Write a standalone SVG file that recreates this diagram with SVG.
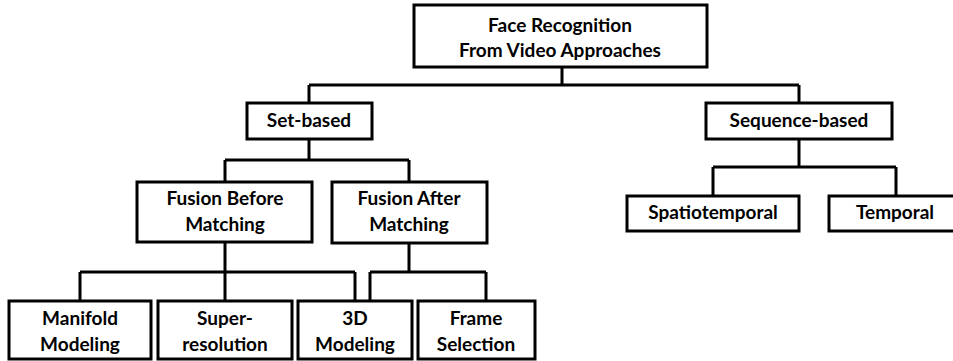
<svg xmlns="http://www.w3.org/2000/svg" width="953" height="361" viewBox="0 0 953 361">
<style>
.box{fill:#fff;stroke:#000;stroke-width:3}
.conn{fill:none;stroke:#000;stroke-width:3}
text{font-family:Lato,"Open Sans","Liberation Sans",sans-serif;font-weight:bold;font-size:19px;fill:#000;text-anchor:middle}
</style>
<rect width="953" height="361" fill="#fff"/>
<g id="connectors">
<path class="conn" d="M562,67V85M309,85H799M309,85V103M799,85V103"/>
<path class="conn" d="M309,139V160M225,160H409M225,160V182M409,160V182"/>
<path class="conn" d="M799,139V167M713,167H896M713,167V196M896,167V196"/>
<path class="conn" d="M225,242V301M80,272H355M80,272V301M355,272V301"/>
<path class="conn" d="M409,243V272M370,272H486M370,272V301M486,272V301"/>
</g>
<g id="root"><rect class="box" x="414" y="5" width="293" height="62"/><text x="560" y="32">Face Recognition</text><text x="560" y="57">From Video Approaches</text></g>
<g id="set-based"><rect class="box" x="247" y="103" width="125" height="36"/><text x="309" y="127">Set-based</text></g>
<g id="sequence-based"><rect class="box" x="706" y="103" width="186" height="36"/><text x="799" y="127">Sequence-based</text></g>
<g id="fusion-before"><rect class="box" x="137" y="182" width="175" height="60"/><text x="225" y="205">Fusion Before</text><text x="225" y="231">Matching</text></g>
<g id="fusion-after"><rect class="box" x="332" y="182" width="155" height="61"/><text x="409" y="205">Fusion After</text><text x="409" y="231">Matching</text></g>
<g id="spatiotemporal"><rect class="box" x="627" y="196" width="172" height="35"/><text x="713" y="219">Spatiotemporal</text></g>
<g id="temporal"><rect class="box" x="829" y="196" width="134" height="35"/><text x="895" y="219">Temporal</text></g>
<g id="manifold"><rect class="box" x="9" y="301" width="142" height="58"/><text x="80" y="325">Manifold</text><text x="80" y="351">Modeling</text></g>
<g id="super-resolution"><rect class="box" x="158" y="301" width="134" height="58"/><text x="225" y="325">Super-</text><text x="225" y="351">resolution</text></g>
<g id="modeling-3d"><rect class="box" x="298" y="301" width="114" height="58"/><text x="355" y="325">3D</text><text x="355" y="351">Modeling</text></g>
<g id="frame-selection"><rect class="box" x="418" y="301" width="117" height="58"/><text x="476" y="325">Frame</text><text x="476" y="351">Selection</text></g>
</svg>
